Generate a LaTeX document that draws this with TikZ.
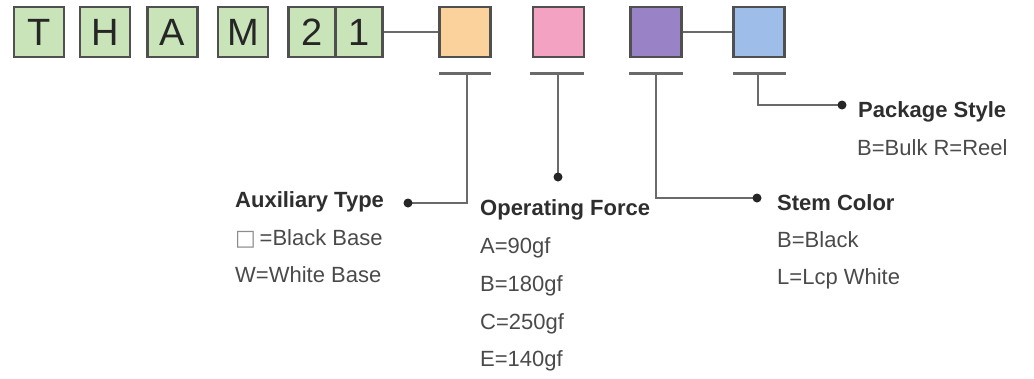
\documentclass[tikz,border=0pt]{standalone}
\usepackage{fontspec}
\setmainfont{Liberation Sans}
\newfontfamily\symf{DejaVu Sans}
\usetikzlibrary{calc}
\definecolor{gfill}{HTML}{C8E4B8}
\definecolor{bline}{HTML}{505050}
\definecolor{cline}{HTML}{6A6A6A}
\definecolor{cor}{HTML}{FCD29C}
\definecolor{cpk}{HTML}{F3A2C2}
\definecolor{cpu}{HTML}{9A82C6}
\definecolor{cbl}{HTML}{9EBDE8}
\definecolor{thead}{HTML}{2E2E2E}
\definecolor{tbody}{HTML}{4A4A4A}
\tikzset{
  letbox/.style={draw=bline, line width=2.2pt, fill=gfill, minimum width=50pt, minimum height=50pt, inner sep=0pt, font=\fontsize{38}{40}\selectfont, text=black!85},
  colbox/.style={draw=bline, line width=2.2pt, minimum width=51pt, minimum height=50pt, inner sep=0pt},
  conn/.style={draw=cline, line width=2.5pt},
  barline/.style={draw=cline, line width=3pt},
  dotc/.style={fill=black!85, draw=none},
  head/.style={anchor=base west, inner sep=0pt, font=\fontsize{22}{24}\selectfont\bfseries, text=thead},
  body/.style={anchor=base west, inner sep=0pt, font=\fontsize{22}{24}\selectfont, text=tbody},
}
\begin{document}
\begin{tikzpicture}[x=1pt,y=-1pt]
\useasboundingbox (0,0) rectangle (1034,378);
% letter boxes
\node[letbox] (t) at (39,32) {T};
\node[letbox] (h) at (105,32) {H};
\node[letbox] (a) at (172.5,32) {A};
\node[letbox] (m) at (243,32) {M};
\node[letbox, minimum width=47pt] (n2) at (312,32) {2};
\node[letbox, minimum width=47pt] (n1) at (359,32) {1};
% colour boxes
\node[colbox, fill=cor] (o) at (465,32) {};
\node[colbox, fill=cpk] (p) at (558.5,32) {};
\node[colbox, fill=cpu] (u) at (656,32) {};
\node[colbox, fill=cbl] (b) at (759,32) {};
\draw[conn] (n1.east) -- (o.west);
\draw[conn] (u.east) -- (b.west);
% bars
\draw[barline] (439,73) -- (491,73);
\draw[barline] (530,73) -- (584,73);
\draw[barline] (629,73) -- (683,73);
\draw[barline] (733,73) -- (786,73);
\coordinate (barO) at (467,73);
\coordinate (barP) at (558,73);
\coordinate (barU) at (656,73);
\coordinate (barB) at (758,73);
\coordinate (dotO) at (408,203);
\coordinate (dotP) at (558,177);
\coordinate (dotU) at (757,198);
\coordinate (dotB) at (842,105);
\draw[conn] (barO) |- (dotO);
\draw[conn] (barP) -- (dotP);
\draw[conn] (barU) |- (dotU);
\draw[conn] (barB) |- (dotB);
\foreach \d in {dotO,dotP,dotU,dotB} \fill[dotc] (\d) circle (4.5pt);
% texts
\node[head] (hb) at (858,117) {Package Style};
\node[body] (b1) at (857,155) {B=Bulk R=Reel};
\node[head] (hu) at (777,210) {Stem Color};
\node[body] (u1) at (777,247) {B=Black};
\node[body] (u2) at (777,284) {L=Lcp White};
\node[head] (ho) at (235,207) {Auxiliary Type};
\node[body] (o1) at (235,245) {{\symf\textcolor{black!45}{□}}\,=Black Base};
\node[body] (o2) at (235,282) {W=White Base};
\node[head] (hp) at (480,215) {Operating Force};
\node[body] (p1) at (480,253) {A=90gf};
\node[body] (p2) at (480,291) {B=180gf};
\node[body] (p3) at (480,329) {C=250gf};
\node[body] (p4) at (480,366) {E=140gf};
\end{tikzpicture}
\end{document}
